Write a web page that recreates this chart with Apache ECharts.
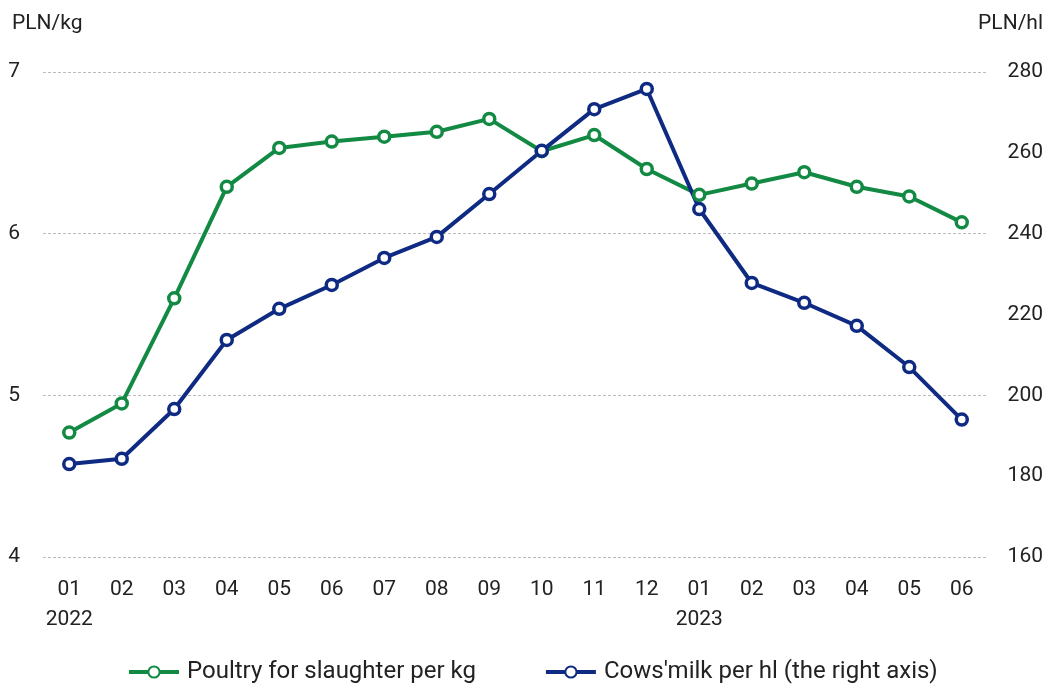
<!DOCTYPE html>
<html><head><meta charset="utf-8">
<script src="https://cdn.jsdelivr.net/npm/echarts@6/dist/echarts.min.js"></script>
<style>html,body{margin:0;padding:0;background:#fff}#c{width:1051px;height:689px}</style>
</head><body><div id="c"></div>
<script>
const months = ['01','02','03','04','05','06','07','08','09','10','11','12','01','02','03','04','05','06'];
const years = {0:'2022', 12:'2023'};
const poultry = [4.77,4.95,5.60,6.29,6.53,6.57,6.60,6.63,6.71,6.51,6.61,6.40,6.24,6.31,6.38,6.29,6.23,6.07];
const milk = [183.0,184.3,196.6,213.7,221.4,227.3,234.0,239.2,249.8,260.5,270.8,275.8,246.1,227.8,222.9,217.2,207.0,194.0];
const leftTicks = {min:4, max:7, interval:1};
const rightTicks = {min:160, max:280, interval:20};
const FONT = '"Roboto","Noto Sans",sans-serif';
const GREEN = '#138a43', BLUE = '#0f2a82';
const chart = echarts.init(document.getElementById('c'));
chart.setOption({
  animation:false,
  textStyle:{fontFamily:FONT},
  grid:{left:43,right:63,top:72,bottom:132,containLabel:false,outerBoundsMode:'none'},
  graphic:[
    {type:'text',left:12,top:13,style:{text:'PLN/kg',font:'21px '+FONT,fill:'#222'}},
    {type:'text',right:8,top:13,style:{text:'PLN/hl',font:'21px '+FONT,fill:'#222'}}
  ],
  legend:{bottom:0,left:122,itemGap:68,itemWidth:50,itemHeight:14,
    lineStyle:{width:4},
    textStyle:{fontSize:24,color:'#222',fontFamily:FONT,padding:[0,0,0,3]},
    data:['Poultry for slaughter per kg',"Cows'milk per hl (the right axis)"]},
  xAxis:{type:'category',data:months,boundaryGap:true,
    axisLine:{show:false},axisTick:{show:false},
    axisLabel:{interval:0,fontSize:21,color:'#222',margin:18,lineHeight:30,
      formatter:(v,i)=> years[i] ? v+'\n'+years[i] : v}},
  yAxis:[
    {type:'value',min:leftTicks.min,max:leftTicks.max,interval:leftTicks.interval,
     axisLabel:{fontSize:21,color:'#222',margin:23},
     axisLine:{show:false},axisTick:{show:false},
     splitLine:{lineStyle:{color:'#bbb',type:[3,2],width:1}}},
    {type:'value',min:rightTicks.min,max:rightTicks.max,interval:rightTicks.interval,position:'right',
     axisLabel:{fontSize:21,color:'#222',margin:55,align:'right'},
     axisLine:{show:false},axisTick:{show:false},splitLine:{show:false}}
  ],
  series:[
    {name:'Poultry for slaughter per kg',type:'line',data:poultry,yAxisIndex:0,
     symbol:'circle',symbolSize:11,showAllSymbol:true,
     lineStyle:{color:GREEN,width:4},
     itemStyle:{color:'#fff',borderColor:GREEN,borderWidth:3.5}},
    {name:"Cows'milk per hl (the right axis)",type:'line',data:milk,yAxisIndex:1,
     symbol:'circle',symbolSize:11,showAllSymbol:true,
     lineStyle:{color:BLUE,width:4},
     itemStyle:{color:'#fff',borderColor:BLUE,borderWidth:3.5}}
  ]
});
</script></body></html>
